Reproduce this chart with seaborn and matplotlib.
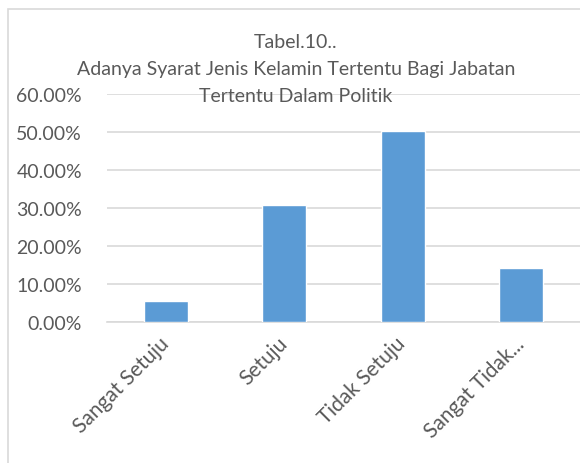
import seaborn as sns
import matplotlib.pyplot as plt
import pandas as pd
from matplotlib.patches import Rectangle
from matplotlib.ticker import FuncFormatter, FixedLocator

# data
categories = ["Sangat Setuju", "Setuju", "Tidak Setuju", "Sangat Tidak..."]
persen = [0.054, 0.307, 0.503, 0.143]
title_lines = ["Tabel.10..",
               "Adanya Syarat Jenis Kelamin Tertentu Bagi Jabatan",
               "Tertentu Dalam Politik"]

df = pd.DataFrame({"kategori": categories, "persen": persen})

sns.set_style("white")
plt.rcParams["font.family"] = ["Lato", "DejaVu Sans"]
text_col = "#595959"
grid_col = "#d9d9d9"

fig = plt.figure(figsize=(5.8, 4.64), dpi=100)
# chart frame like excel
fig.patches.append(Rectangle((8 / 580, -0.1), 2, 1 - 10 / 464 + 0.1,
                             transform=fig.transFigure, facecolor="white",
                             edgecolor=grid_col, linewidth=1.2, zorder=-5))

ax = fig.add_axes([107 / 580, 1 - 323 / 464, 1 - 107 / 580, (323 - 95) / 464])
ax.set_facecolor("none")
sns.barplot(data=df, x="kategori", y="persen", color="#5b9bd5", saturation=1,
            width=0.37, ax=ax, zorder=3)

ax.set_ylim(0, 0.6)
ax.set_xlim(-0.5, 3.5)
ax.set_yticks([0, 0.1, 0.2, 0.3, 0.4, 0.5, 0.6])
ax.yaxis.set_major_formatter(FuncFormatter(lambda v, p: f"{v * 100:.2f}%"))
ax.grid(axis="y", color=grid_col, linewidth=1.2, zorder=0)
ax.set_axisbelow(True)
for s in ["left", "right", "top"]:
    ax.spines[s].set_visible(False)
ax.spines["bottom"].set_color(grid_col)
ax.spines["bottom"].set_linewidth(1.2)
ax.tick_params(axis="y", length=0, pad=18, labelsize=14, labelcolor=text_col)

# category boundary ticks
ax.xaxis.set_minor_locator(FixedLocator([-0.5, 0.5, 1.5, 2.5, 3.5]))
ax.tick_params(axis="x", which="minor", length=6, color=grid_col, width=1.2)
ax.tick_params(axis="x", which="major", length=0, pad=4)
ax.set_xticks(range(len(categories)))
ax.set_xticklabels(categories, rotation=45, ha="right", va="center",
                   rotation_mode="anchor", fontsize=15, color=text_col)
for lbl in ax.get_xticklabels():
    lbl.set_y(-0.055)
ax.set_xlabel("")
ax.set_ylabel("")

for t, y in zip(title_lines, [42, 70, 96]):
    fig.text(0.51, 1 - y / 464, t, ha="center", va="center", fontsize=14,
             color=text_col)

fig.savefig("out.png", dpi=100)
